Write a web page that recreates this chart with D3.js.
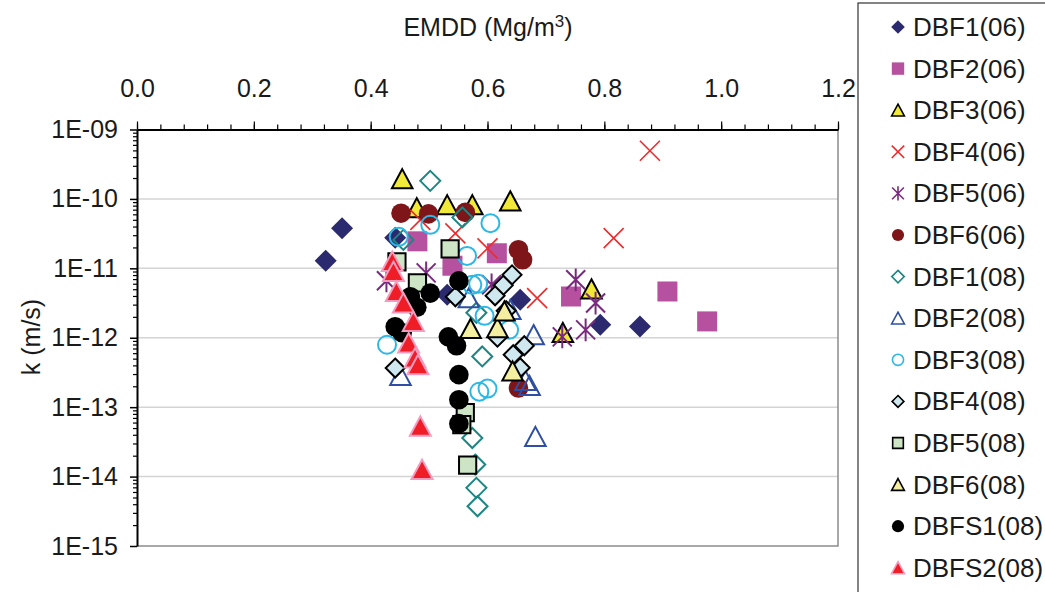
<!DOCTYPE html>
<html>
<head>
<meta charset="utf-8">
<script src="https://cdn.jsdelivr.net/npm/d3@7"></script>
<style>
  body { margin: 0; background: #fff; }
  svg { display: block; font-family: "Liberation Sans", Arial, sans-serif; }
</style>
</head>
<body>
<svg id="chart" width="1045" height="592"></svg>
<script>
// ---- data: EMDD (Mg/m3) and hydraulic conductivity k (m/s) per series ----
const seriesNames = ["DBF1(06)", "DBF2(06)", "DBF3(06)", "DBF4(06)", "DBF5(06)", "DBF6(06)",
  "DBF1(08)", "DBF2(08)", "DBF3(08)", "DBF4(08)", "DBF5(08)", "DBF6(08)", "DBFS1(08)", "DBFS2(08)"];

const dbf1_06_emdd = [0.351, 0.323, 0.442, 0.531, 0.656, 0.793, 0.861];
const dbf1_06_k    = [3.79e-11, 1.29e-11, 2.75e-11, 4.16e-12, 3.52e-12, 1.54e-12, 1.45e-12];

const dbf2_06_emdd = [0.480, 0.540, 0.616, 0.743, 0.908, 0.976];
const dbf2_06_k    = [2.45e-11, 1.09e-11, 1.65e-11, 3.93e-12, 4.64e-12, 1.72e-12];

const dbf3_06_emdd = [0.454, 0.479, 0.531, 0.574, 0.639, 0.778, 0.729];
const dbf3_06_k    = [1.94e-10, 7.42e-11, 8.20e-11, 8.20e-11, 9.30e-11, 5.02e-12, 1.18e-12];

const dbf4_06_emdd = [0.485, 0.545, 0.600, 0.685, 0.816, 0.878];
const dbf4_06_k    = [4.99e-11, 3.19e-11, 1.94e-11, 3.73e-12, 2.72e-11, 4.95e-10];

const dbf5_06_emdd = [0.427, 0.495, 0.607, 0.751, 0.785, 0.728, 0.768];
const dbf5_06_k    = [6.61e-12, 8.61e-12, 5.79e-12, 6.83e-12, 3.16e-12, 1.03e-12, 1.30e-12];

const dbf6_06_emdd = [0.452, 0.499, 0.562, 0.653, 0.660, 0.653];
const dbf6_06_k    = [6.23e-11, 6.08e-11, 6.39e-11, 1.85e-11, 1.33e-11, 1.89e-13];

const dbf1_08_emdd = [0.502, 0.557, 0.456, 0.581, 0.591, 0.574, 0.579, 0.581, 0.583];
const dbf1_08_k    = [1.82e-10, 5.42e-11, 2.57e-11, 2.29e-12, 5.38e-13, 3.60e-14, 1.49e-14, 6.88e-15, 3.74e-15];

const dbf2_08_emdd = [0.451, 0.568, 0.639, 0.679, 0.665, 0.672, 0.682];
const dbf2_08_k    = [2.84e-13, 3.73e-12, 2.53e-12, 1.10e-12, 2.41e-13, 2.04e-13, 3.76e-14];

const dbf3_08_emdd = [0.428, 0.448, 0.502, 0.565, 0.605, 0.574, 0.584, 0.595, 0.586, 0.600, 0.637];
const dbf3_08_k    = [7.93e-13, 2.84e-11, 4.23e-11, 1.51e-11, 4.47e-11, 5.79e-12, 5.98e-12, 2.07e-12, 1.67e-13, 1.85e-13, 1.30e-12];

const dbf4_08_emdd = [0.442, 0.545, 0.642, 0.627, 0.613, 0.632, 0.617, 0.663, 0.644, 0.656];
const dbf4_08_k    = [3.66e-13, 3.89e-12, 8.06e-12, 5.69e-12, 4.02e-12, 2.45e-12, 1.02e-12, 7.67e-13, 5.69e-13, 3.70e-13];

const dbf5_08_emdd = [0.445, 0.480, 0.536, 0.562, 0.556, 0.566];
const dbf5_08_k    = [1.24e-11, 6.19e-12, 1.91e-11, 8.33e-14, 5.60e-14, 1.46e-14];

const dbf6_08_emdd = [0.571, 0.617, 0.629, 0.643];
const dbf6_08_k    = [1.35e-12, 1.39e-12, 2.41e-12, 3.30e-13];

const dbfs1_08_emdd = [0.551, 0.502, 0.468, 0.479, 0.442, 0.454, 0.533, 0.547, 0.551, 0.551, 0.551];
const dbfs1_08_k    = [6.61e-12, 4.40e-12, 3.89e-12, 2.75e-12, 1.44e-12, 1.18e-12, 1.03e-12, 7.67e-13, 2.94e-13, 1.28e-13, 5.79e-14];

const dbfs2_08_emdd = [0.437, 0.439, 0.444, 0.456, 0.473, 0.465, 0.476, 0.481, 0.485, 0.488];
const dbfs2_08_k    = [1.25e-11, 8.99e-12, 4.64e-12, 3.16e-12, 1.72e-12, 8.39e-13, 5.11e-13, 4.09e-13, 5.29e-14, 1.26e-14];

const xTickValues = [0, 0.2, 0.4, 0.6, 0.8, 1.0, 1.2];
const xTickLabels = ["0.0", "0.2", "0.4", "0.6", "0.8", "1.0", "1.2"];
const yTickValues = [1e-15, 1e-14, 1e-13, 1e-12, 1e-11, 1e-10, 1e-9];
const yTickLabels = ["1E-15", "1E-14", "1E-13", "1E-12", "1E-11", "1E-10", "1E-09"];

// ---- marker shapes (paths centred on 0,0) ----
const shapes = {
  diamond: r => `M0,${-r}L${r},0L0,${r}L${-r},0Z`,
  square: r => `M${-r},${-r}H${r}V${r}H${-r}Z`,
  triangle: r => `M0,${-r}L${r * 1.05},${r * 0.95}L${-r * 1.05},${r * 0.95}Z`,
  circle: r => `M${r},0A${r},${r} 0 1,1 ${-r},0A${r},${r} 0 1,1 ${r},0Z`,
  cross: r => `M${-r},${-r}L${r},${r}M${r},${-r}L${-r},${r}`,
  star: r => `M${-r},${-r}L${r},${r}M${r},${-r}L${-r},${r}M0,${-r * 1.2}L0,${r * 1.2}`
};

const styles = [
  { shape: "diamond", size: 11, fill: "#2B2A6E", stroke: "none", sw: 0 },
  { shape: "square", size: 10, fill: "#B5519F", stroke: "none", sw: 0 },
  { shape: "triangle", size: 9.8, fill: "#F1E93A", stroke: "#000", sw: 2 },
  { shape: "cross", size: 10, fill: "none", stroke: "#EE2A2C", sw: 1.6 },
  { shape: "star", size: 9.5, fill: "none", stroke: "#7A2A7E", sw: 2 },
  { shape: "circle", size: 9.8, fill: "#7E1518", stroke: "none", sw: 0 },
  { shape: "diamond", size: 10, fill: "none", stroke: "#1C8683", sw: 2 },
  { shape: "triangle", size: 9.8, fill: "none", stroke: "#2E4FA3", sw: 2 },
  { shape: "circle", size: 9, fill: "none", stroke: "#2CB8E6", sw: 2 },
  { shape: "diamond", size: 9.5, fill: "#CFE8F0", stroke: "#000", sw: 2 },
  { shape: "square", size: 8.6, fill: "#CDE5C4", stroke: "#000", sw: 2 },
  { shape: "triangle", size: 9.8, fill: "#F4EFA0", stroke: "#000", sw: 2 },
  { shape: "circle", size: 9.8, fill: "#000", stroke: "none", sw: 0 },
  { shape: "triangle", size: 10, fill: "#EE1D26", stroke: "#F59BBE", sw: 2 }
];

const seriesX = [dbf1_06_emdd, dbf2_06_emdd, dbf3_06_emdd, dbf4_06_emdd, dbf5_06_emdd, dbf6_06_emdd,
  dbf1_08_emdd, dbf2_08_emdd, dbf3_08_emdd, dbf4_08_emdd, dbf5_08_emdd, dbf6_08_emdd, dbfs1_08_emdd, dbfs2_08_emdd];
const seriesK = [dbf1_06_k, dbf2_06_k, dbf3_06_k, dbf4_06_k, dbf5_06_k, dbf6_06_k,
  dbf1_08_k, dbf2_08_k, dbf3_08_k, dbf4_08_k, dbf5_08_k, dbf6_08_k, dbfs1_08_k, dbfs2_08_k];

const series = seriesNames.map((name, i) => ({
  name, style: styles[i],
  points: seriesX[i].map((v, j) => ({ x: v, k: seriesK[i][j] }))
}));

// ---- layout ----
const svg = d3.select("#chart");
const plot = { left: 137, right: 838, top: 129.5, bottom: 546 };
const x = d3.scaleLinear().domain([0, 1.2]).range([plot.left, plot.right]);
const y = d3.scaleLog().domain([1e-15, 1e-9]).range([plot.bottom, plot.top]);
const FONT = "'Liberation Sans', Arial, sans-serif";

// legend (drawn first so the last axis label sits above its border)
const legend = svg.append("g");
legend.append("rect")
  .attr("x", 858).attr("y", 3).attr("width", 300).attr("height", 700)
  .attr("fill", "#fff").attr("stroke", "#333").attr("stroke-width", 1.2);
const rows = legend.selectAll("g.row")
  .data(series)
  .join("g")
  .attr("class", "row")
  .attr("transform", (d, i) => `translate(898,${27 + i * 41.6})`);
rows.append("path")
  .attr("d", d => shapes[d.style.shape](d.style.size * 0.62))
  .attr("fill", d => d.style.fill)
  .attr("stroke", d => d.style.stroke)
  .attr("stroke-width", d => Math.min(d.style.sw, 1.6));
rows.append("text")
  .attr("x", 15).attr("y", 9)
  .attr("font-size", 26).attr("fill", "#1a1a1a")
  .text(d => d.name);

// gridlines at each decade
svg.append("g").selectAll("line")
  .data(yTickValues.slice(1, -1))
  .join("line")
  .attr("x1", plot.left).attr("x2", plot.right)
  .attr("y1", d => y(d)).attr("y2", d => y(d))
  .attr("stroke", "#D4D4D4").attr("stroke-width", 1.5);

// plot frame (right and bottom)
svg.append("path")
  .attr("d", `M${plot.right},${plot.top}V${plot.bottom}H${plot.left}`)
  .attr("fill", "none").attr("stroke", "#8C8C8C").attr("stroke-width", 1.5);

// minor ticks along top axis
svg.append("g")
  .attr("transform", `translate(0,${plot.top})`)
  .call(d3.axisTop(x).tickValues(d3.range(0, 31).map(i => i * 0.04)).tickSize(5).tickFormat(""))
  .call(g => g.select(".domain").remove())
  .call(g => g.selectAll("line").attr("stroke", "#000").attr("stroke-width", 1.2));

// top axis with labels
svg.append("g")
  .attr("transform", `translate(0,${plot.top})`)
  .call(d3.axisTop(x).tickValues(xTickValues).tickSize(8).tickSizeOuter(0).tickPadding(25)
    .tickFormat((d, i) => xTickLabels[i]))
  .call(g => g.select(".domain").attr("stroke", "#000").attr("stroke-width", 2))
  .call(g => g.selectAll("line").attr("stroke", "#000").attr("stroke-width", 1.2))
  .call(g => g.selectAll("text").attr("font-size", 25).attr("fill", "#1a1a1a").attr("font-family", FONT));

// minor log ticks on left axis
const minorY = [];
for (let e = -15; e < -9; e++) for (let m = 2; m <= 9; m++) minorY.push(m * Math.pow(10, e));
svg.append("g")
  .attr("transform", `translate(${plot.left},0)`)
  .call(d3.axisLeft(y).tickValues(minorY).tickSize(4).tickFormat(""))
  .call(g => g.select(".domain").remove())
  .call(g => g.selectAll("line").attr("stroke", "#000").attr("stroke-width", 1.2));

// left axis with decade labels
svg.append("g")
  .attr("transform", `translate(${plot.left},0)`)
  .call(d3.axisLeft(y).tickValues(yTickValues).tickSize(7).tickSizeOuter(0).tickPadding(12)
    .tickFormat((d, i) => yTickLabels[i]))
  .call(g => g.select(".domain").attr("stroke", "#000").attr("stroke-width", 2))
  .call(g => g.selectAll("line").attr("stroke", "#000").attr("stroke-width", 1.5))
  .call(g => g.selectAll("text").attr("font-size", 25).attr("fill", "#1a1a1a").attr("font-family", FONT));

// axis titles
const title = svg.append("text")
  .attr("x", 488).attr("y", 36)
  .attr("text-anchor", "middle").attr("font-size", 25).attr("fill", "#1a1a1a");
title.append("tspan").text("EMDD (Mg/m");
title.append("tspan").attr("font-size", 17).attr("dy", -9).text("3");
title.append("tspan").attr("dy", 9).text(")");

svg.append("text")
  .attr("transform", "translate(40,337) rotate(-90)")
  .attr("text-anchor", "middle").attr("font-size", 25).attr("fill", "#1a1a1a")
  .text("k (m/s)");

// data markers, series drawn in order
const marks = svg.append("g");
series.forEach(s => {
  const st = s.style;
  marks.append("g").selectAll("path")
    .data(s.points)
    .join("path")
    .attr("transform", d => `translate(${x(d.x)},${y(d.k)})`)
    .attr("d", shapes[st.shape](st.size))
    .attr("fill", st.fill)
    .attr("stroke", st.stroke)
    .attr("stroke-width", st.sw)
    .attr("stroke-linejoin", "miter");
});
</script>
</body>
</html>
